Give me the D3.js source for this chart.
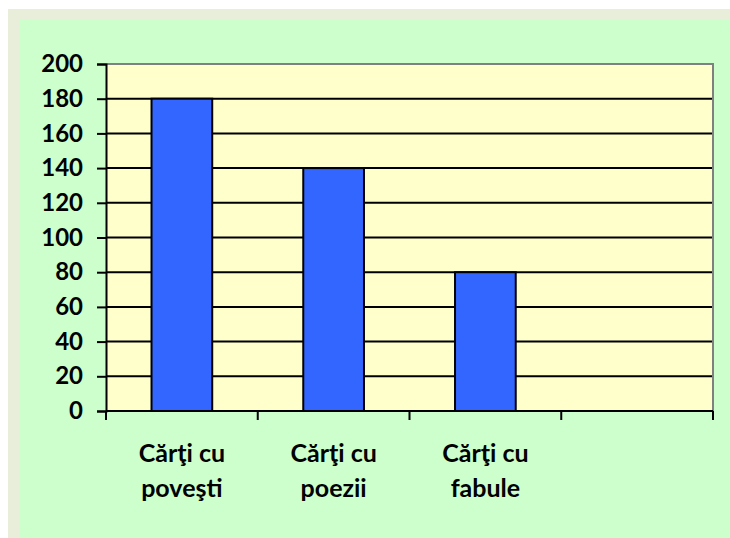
<!DOCTYPE html>
<html>
<head>
<meta charset="utf-8">
<script src="https://cdn.jsdelivr.net/npm/d3@7"></script>
<style>
  html, body { margin: 0; padding: 0; background: #fff; overflow: hidden; }
  svg { display: block; }
  text { font-family: Lato, "Open Sans", sans-serif; font-weight: bold; fill: #000; }
</style>
</head>
<body>
<div id="chart"></div>
<script>
var WIDTH = 730;
var HEIGHT = 538;

// data
var categories = ["Cărţi cu poveşti", "Cărţi cu poezii", "Cărţi cu fabule", ""];
var labelLines = [["Cărţi cu", "poveşti"], ["Cărţi cu", "poezii"], ["Cărţi cu", "fabule"], []];
var values = [180, 140, 80];
var yTicks = [0, 20, 40, 60, 80, 100, 120, 140, 160, 180, 200];

var plot = { left: 106, top: 64, right: 713, bottom: 411 };

var svg = d3.select("#chart").append("svg")
    .attr("width", WIDTH)
    .attr("height", HEIGHT);

// backgrounds
svg.append("rect").attr("x", 8).attr("y", 9)
    .attr("width", WIDTH - 8).attr("height", HEIGHT - 9)
    .attr("fill", "#e9eedb");
svg.append("rect").attr("x", 19).attr("y", 19)
    .attr("width", WIDTH - 19).attr("height", HEIGHT - 19)
    .attr("fill", "#ccffcc");
svg.append("rect").attr("x", plot.left).attr("y", plot.top)
    .attr("width", plot.right - plot.left).attr("height", plot.bottom - plot.top)
    .attr("fill", "#ffffcc");

var x = d3.scaleBand()
    .domain(categories)
    .range([plot.left, plot.right])
    .paddingInner(0.6)
    .paddingOuter(0.3);

var y = d3.scaleLinear().domain([0, 200]).range([plot.bottom, plot.top]);

// grid lines
svg.append("g")
    .selectAll("line")
    .data(yTicks.filter(function(d) { return d > 0 && d < 200; }))
    .enter().append("line")
    .attr("x1", plot.left).attr("x2", plot.right)
    .attr("y1", function(d) { return y(d); })
    .attr("y2", function(d) { return y(d); })
    .attr("stroke", "#000")
    .attr("stroke-width", 2);

// grey top/right border
svg.append("path")
    .attr("d", "M" + plot.left + "," + y(200) + "H" + plot.right + "V" + plot.bottom)
    .attr("fill", "none")
    .attr("stroke", "#808080")
    .attr("stroke-width", 2);

// bars
svg.append("g")
    .selectAll("rect")
    .data(values)
    .enter().append("rect")
    .attr("x", function(d, i) { return x(categories[i]); })
    .attr("y", function(d) { return y(d); })
    .attr("width", x.bandwidth())
    .attr("height", function(d) { return y(0) - y(d); })
    .attr("fill", "#3366ff")
    .attr("stroke", "#000")
    .attr("stroke-width", 2);

// y axis
var yAxis = svg.append("g")
    .attr("transform", "translate(" + plot.left + ",0)")
    .call(d3.axisLeft(y).tickValues(yTicks).tickSize(9).tickPadding(14));
yAxis.attr("font-family", null).attr("font-size", null);
yAxis.select(".domain").attr("stroke-width", 2);
yAxis.selectAll(".tick line").attr("stroke-width", 2);
yAxis.selectAll("text").style("font-size", "24px");

// x axis: ticks at category boundaries
var step = x.step();
var bounds = d3.range(categories.length + 1).map(function(i) { return plot.left + i * step; });
svg.append("line")
    .attr("x1", plot.left).attr("x2", plot.right)
    .attr("y1", plot.bottom).attr("y2", plot.bottom)
    .attr("stroke", "#000").attr("stroke-width", 2);
svg.append("g")
    .selectAll("line")
    .data(bounds)
    .enter().append("line")
    .attr("x1", function(d) { return d; })
    .attr("x2", function(d) { return d; })
    .attr("y1", plot.bottom)
    .attr("y2", plot.bottom + 9)
    .attr("stroke", "#000")
    .attr("stroke-width", 2);

// category labels
var labels = svg.append("g")
    .selectAll("text")
    .data(categories)
    .enter().append("text")
    .attr("text-anchor", "middle")
    .style("font-size", "25px")
    .attr("x", function(d) { return x(d) + x.bandwidth() / 2; })
    .attr("y", 462);

labels.selectAll("tspan")
    .data(function(d, i) { return labelLines[i]; })
    .enter().append("tspan")
    .attr("x", function() { return d3.select(this.parentNode).attr("x"); })
    .attr("dy", function(d, i) { return i === 0 ? 0 : 35; })
    .text(function(d) { return d; });
</script>
</body>
</html>
